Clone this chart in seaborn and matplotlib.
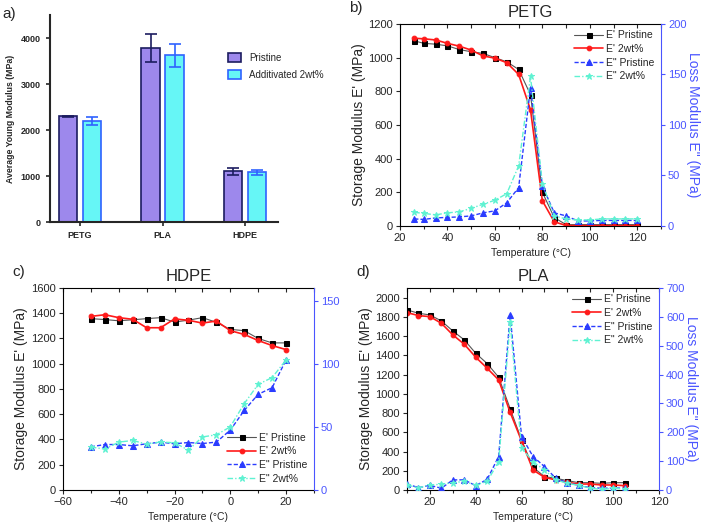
import numpy as np
import pandas as pd
import seaborn as sns
import matplotlib.pyplot as plt
from matplotlib.ticker import MultipleLocator

# ---- panel a: tensile test ----
materials = ["PETG", "PLA", "HDPE"]
groups = ["Pristine", "Additivated 2wt%"]
young_pristine = [2300, 3780, 1100]
young_pristine_err = [15, 300, 70]
young_additiv = [2200, 3630, 1080]
young_additiv_err = [80, 250, 55]

# ---- panel b: PETG DMA ----
petg_temp = [26, 30, 35, 40, 45, 50, 55, 60, 65, 70, 75, 80, 85, 90, 95, 100, 105, 110, 115, 120]
petg_e1_pristine = [1100, 1085, 1080, 1070, 1048, 1035, 1025, 1000, 975, 930, 780, 200, 50, 8, 8, 8, 8, 8, 8, 8]
petg_e1_2wt = [1115, 1112, 1105, 1085, 1068, 1045, 1010, 997, 970, 900, 690, 150, 25, 3, 2, 2, 2, 2, 2, 2]
petg_e2_pristine = [7, 6.5, 8, 8.5, 9, 10, 13, 15, 23, 38, 137, 40, 13, 10, 5, 5, 5.5, 5.5, 5.5, 5.5]
petg_e2_2wt = [13.5, 12.5, 11, 13, 14, 17.5, 21.5, 25.5, 32, 59.5, 148, 42, 10, 7, 6, 6, 7, 7, 7, 7]

# ---- panel c: HDPE DMA ----
hdpe_temp = [-50, -45, -40, -35, -30, -25, -20, -15, -10, -5, 0, 5, 10, 15, 20]
hdpe_e1_pristine = [1357, 1350, 1340, 1348, 1357, 1365, 1330, 1345, 1365, 1328, 1272, 1262, 1200, 1165, 1165]
hdpe_e1_2wt = [1375, 1388, 1365, 1352, 1285, 1285, 1355, 1344, 1322, 1338, 1262, 1232, 1184, 1144, 1112]
hdpe_e2_pristine = [34.2, 36, 36, 35, 36.6, 37.9, 36.6, 37.6, 36.8, 37.9, 47.4, 63, 75.8, 81, 103]
hdpe_e2_2wt = [34, 32.4, 37.9, 39.2, 36.3, 38, 37.4, 31.6, 42, 43.7, 50, 68.4, 83.7, 89, 103]

# ---- panel d: PLA DMA ----
pla_temp = [10, 15, 20, 25, 30, 35, 40, 45, 50, 55, 60, 65, 70, 75, 80, 85, 90, 95, 100, 105]
pla_e1_pristine = [1872, 1837, 1820, 1757, 1653, 1560, 1421, 1314, 1172, 846, 520, 236, 139, 121, 97, 76, 76, 69, 76, 76]
pla_e1_2wt = [1844, 1813, 1802, 1733, 1612, 1515, 1380, 1265, 1144, 808, 510, 208, 132, 104, 80, 62, 62, 52, 52, 45]
pla_e2_pristine = [21, 8, 16, 6, 35, 35, 15, 37, 116, 608, 185, 116, 81, 40, 25, 16, 8, 6, 7, 6]
pla_e2_2wt = [17, 8, 17, 20, 25, 30, 17, 30, 98, 581, 145, 98, 69, 35, 23, 16, 6, 2, 6, 3]

BLUE = "#2a3cff"
AXBLUE = "#4a55ff"
CYAN = "#5ff2d2"

sns.set_style("ticks")
plt.rcParams["font.family"] = ["Liberation Sans", "DejaVu Sans"]

fig = plt.figure(figsize=(7.02, 5.28), dpi=100)

# ---------------- a) ----------------
ax_a = fig.add_axes([0.0712, 0.5795, 0.325, 0.392])
df = pd.DataFrame({
    "material": materials * 2,
    "group": [groups[0]] * 3 + [groups[1]] * 3,
    "value": young_pristine + young_additiv,
})
sns.barplot(data=df, x="material", y="value", hue="group", ax=ax_a,
            palette=["#9d88ec", "#66f6f6"], errorbar=None,
            width=0.58, gap=0.22, linewidth=1.2, saturation=1)
edge_cols = ["#1c1c60", "#2f62ff"]
errs = [young_pristine_err, young_additiv_err]
vals = [young_pristine, young_additiv]
for cont, ec, err, v in zip(ax_a.containers, edge_cols, errs, vals):
    xs = []
    for p in cont.patches:
        p.set_edgecolor(ec)
        xs.append(p.get_x() + p.get_width() / 2)
    ax_a.errorbar(xs, v, yerr=err, fmt="none", ecolor=ec, elinewidth=1.2,
                  capsize=4, capthick=1.2)
ax_a.set_xlim(-0.364, 2.4)
ax_a.set_ylim(0, 4500)
ax_a.set_yticks([0, 1000, 2000, 3000, 4000])
ax_a.set_xlabel("")
ax_a.set_ylabel("Average Young Modulus (MPa)", fontsize=6.3, fontweight="bold")
ax_a.tick_params(labelsize=6.5, width=1.2, length=3, direction="out")
for lab in ax_a.get_xticklabels() + ax_a.get_yticklabels():
    lab.set_fontweight("bold")
for s in ["left", "bottom"]:
    ax_a.spines[s].set_linewidth(1.5)
sns.despine(ax=ax_a)
leg = ax_a.legend(loc="upper left", bbox_to_anchor=(0.74, 0.86), frameon=False,
                  fontsize=7, handlelength=1.4, handleheight=1.0, labelspacing=0.7)
for patch, ec in zip(leg.get_patches(), edge_cols):
    patch.set_edgecolor(ec)
    patch.set_linewidth(1.2)
fig.text(0.004, 0.965, "a)", fontsize=11)


def dma_panel(rect, temp, e1p, e1w, e2p, e2w, title, xlim, ylim, ylim2,
              xmajor, ymajor, y2major, legend_loc, right_label, tag):
    ax = fig.add_axes(rect)
    ax2 = ax.twinx()
    sns.lineplot(x=temp, y=e1p, ax=ax, color="#555555", lw=0.8, marker="s",
                 markersize=3.6, markerfacecolor="black", markeredgecolor="black",
                 label="E' Pristine", legend=False)
    sns.lineplot(x=temp, y=e1w, ax=ax, color="#ff1a1a", lw=1.2, marker="o",
                 markersize=3.4, markeredgecolor="#ff1a1a",
                 label="E' 2wt%", legend=False)
    sns.lineplot(x=temp, y=e2p, ax=ax2, color=BLUE, lw=1.0, marker="^",
                 markersize=3.8, markeredgecolor=BLUE, dashes=(3, 1.5),
                 label='E" Pristine', legend=False)
    sns.lineplot(x=temp, y=e2w, ax=ax2, color=CYAN, lw=1.0, marker="*",
                 markersize=4.5, markeredgecolor=CYAN, dashes=(4, 1.5, 1, 1.5),
                 label='E" 2wt%', legend=False)
    ax.set_xlim(*xlim)
    ax.set_ylim(*ylim)
    ax2.set_ylim(*ylim2)
    ax.xaxis.set_major_locator(MultipleLocator(xmajor))
    ax.xaxis.set_minor_locator(MultipleLocator(xmajor / 2))
    ax.yaxis.set_major_locator(MultipleLocator(ymajor))
    ax2.yaxis.set_major_locator(MultipleLocator(y2major))
    ax.set_title(title, fontsize=12, pad=5)
    ax.set_xlabel("Temperature (°C)", fontsize=7.5)
    ax.set_ylabel("Storage Modulus E' (MPa)", fontsize=10, labelpad=2)
    ax.tick_params(axis="both", which="both", labelsize=8, direction="out",
                   length=3, width=0.8, pad=2)
    ax.tick_params(axis="x", which="minor", length=2)
    top = ax.secondary_xaxis("top")
    top.xaxis.set_major_locator(MultipleLocator(xmajor))
    top.xaxis.set_minor_locator(MultipleLocator(xmajor / 2))
    top.tick_params(which="both", direction="in", labeltop=False, length=3, width=0.8)
    top.spines["top"].set_visible(False)
    ax2.tick_params(axis="y", colors=AXBLUE, labelsize=8, direction="out",
                    length=3, width=0.8, pad=2)
    for s in ["left", "bottom", "top"]:
        ax.spines[s].set_color("black")
        ax.spines[s].set_linewidth(0.8)
    ax.spines["right"].set_visible(False)
    for s in ["left", "bottom", "top"]:
        ax2.spines[s].set_visible(False)
    ax2.spines["right"].set_visible(True)
    ax2.spines["right"].set_color(AXBLUE)
    ax2.spines["right"].set_linewidth(0.8)
    if right_label:
        ax2.set_ylabel('Loss Modulus E" (MPa)', fontsize=10, color=AXBLUE,
                       rotation=-90, labelpad=10)
    h1, l1 = ax.get_legend_handles_labels()
    h2, l2 = ax2.get_legend_handles_labels()
    ax2.legend(h1 + h2, l1 + l2, loc=legend_loc, frameon=False, fontsize=7.5,
               handlelength=2.8, labelspacing=0.35, borderaxespad=0.2,
               handletextpad=0.3)
    fig.text(rect[0] - 0.072, rect[1] + rect[3] + 0.022, tag, fontsize=11)
    return ax


dma_panel([0.5698, 0.572, 0.3718, 0.3826], petg_temp, petg_e1_pristine,
          petg_e1_2wt, petg_e2_pristine, petg_e2_2wt, "PETG", (20, 130),
          (0, 1200), (0, 200), 20, 200, 50, "upper right", True, "b)")
dma_panel([0.0897, 0.072, 0.3575, 0.3826], hdpe_temp, hdpe_e1_pristine,
          hdpe_e1_2wt, hdpe_e2_pristine, hdpe_e2_2wt, "HDPE", (-60, 30),
          (0, 1600), (0, 160), 20, 200, 50, "lower right", False, "c)")
dma_panel([0.5798, 0.072, 0.359, 0.3826], pla_temp, pla_e1_pristine,
          pla_e1_2wt, pla_e2_pristine, pla_e2_2wt, "PLA", (10, 120),
          (0, 2100), (0, 700), 20, 200, 100, "upper right", True, "d)")

fig.savefig("out.png", dpi=100)
